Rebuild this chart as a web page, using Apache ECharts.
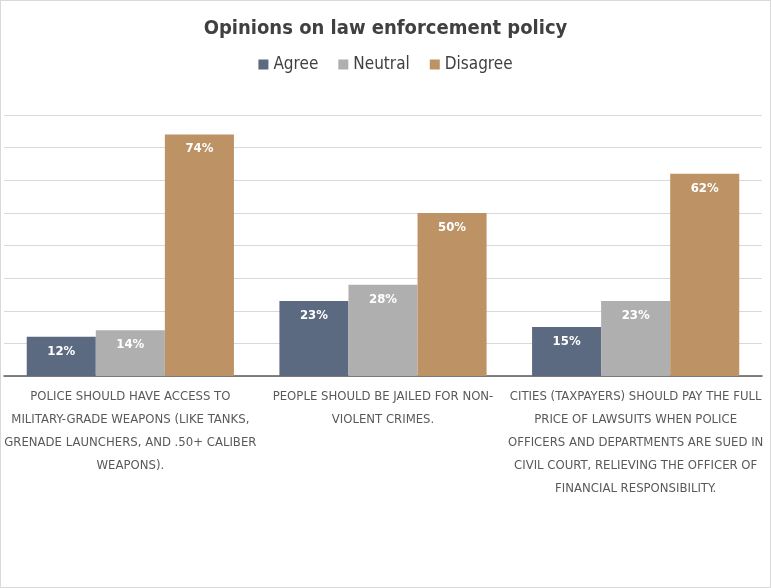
<!DOCTYPE html>
<html>
<head>
<meta charset="utf-8">
<script src="https://cdn.jsdelivr.net/npm/echarts@6/dist/echarts.min.js"></script>
<style>
  html, body { margin: 0; padding: 0; background: #fff; }
  #chart { width: 771px; height: 588px; box-sizing: border-box; border: 1px solid #d9d9d9; }
</style>
</head>
<body>
<div id="chart"></div>
<script>
// data
const categories = [
  'POLICE SHOULD HAVE ACCESS TO\nMILITARY-GRADE WEAPONS (LIKE TANKS,\nGRENADE LAUNCHERS, AND .50+ CALIBER\nWEAPONS).',
  'PEOPLE SHOULD BE JAILED FOR NON-\nVIOLENT CRIMES.',
  'CITIES (TAXPAYERS) SHOULD PAY THE FULL\nPRICE OF LAWSUITS WHEN POLICE\nOFFICERS AND DEPARTMENTS ARE SUED IN\nCIVIL COURT, RELIEVING THE OFFICER OF\nFINANCIAL RESPONSIBILITY.'
]
const agree = [12, 23, 15]
const neutral = [14, 28, 23]
const disagree = [74, 50, 62]

const font = '"DejaVu Sans Condensed", "Liberation Sans", sans-serif'

let myChart = echarts.init(document.getElementById('chart'))

function barSeries (name, data, color) {
  return {
    name: name,
    type: 'bar',
    data: data,
    barGap: '0%',
    barCategoryGap: '18%',
    itemStyle: { color: color },
    label: {
      show: true,
      position: 'insideTop',
      distance: 8,
      color: '#fff',
      fontWeight: 'bold',
      fontSize: 13,
      fontFamily: font,
      formatter: '{c}%'
    }
  }
}

let option = {
  animation: false,
  title: {
    text: 'Opinions on law enforcement policy',
    left: 'center',
    top: 13,
    textStyle: { fontFamily: font, fontSize: 20, fontWeight: 'bold', color: '#404040' }
  },
  legend: {
    top: 50,
    left: 'center',
    icon: 'rect',
    itemWidth: 10,
    itemHeight: 10,
    itemGap: 20,
    textStyle: { fontFamily: font, fontSize: 17, color: '#404040' },
    data: ['Agree', 'Neutral', 'Disagree']
  },
  grid: {
    left: 3,
    right: 8,
    top: 114,
    bottom: 211,
    containLabel: false,
    outerBoundsMode: 'none'
  },
  xAxis: {
    type: 'category',
    data: categories,
    axisTick: { show: false },
    axisLine: { lineStyle: { color: '#595959', width: 1.5 } },
    axisLabel: {
      interval: 0,
      margin: 9,
      lineHeight: 23,
      fontSize: 13,
      fontFamily: font,
      color: '#595959'
    }
  },
  yAxis: {
    type: 'value',
    min: 0,
    max: 80,
    interval: 10,
    axisLabel: { show: false },
    axisLine: { show: false },
    axisTick: { show: false },
    splitLine: { lineStyle: { color: '#d9d9d9' } }
  },
  series: [
    barSeries('Agree', agree, '#5b6a80'),
    barSeries('Neutral', neutral, '#afafaf'),
    barSeries('Disagree', disagree, '#bd9265')
  ]
}
myChart.setOption(option)
</script>
</body>
</html>
